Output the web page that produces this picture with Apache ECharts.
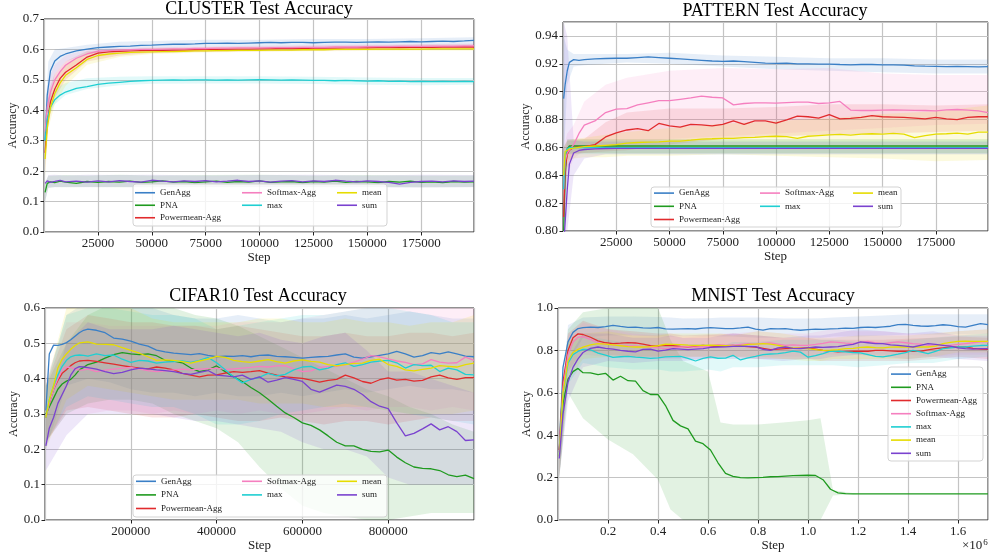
<!DOCTYPE html>
<html>
<head>
<meta charset="utf-8">
<script src="https://cdn.jsdelivr.net/npm/echarts@6/dist/echarts.min.js"></script>
<style>
  html, body { margin: 0; padding: 0; background: #fff; }
  #chart { width: 989px; height: 556px; }
</style>
</head>
<body>
<div id="chart"></div>
<script>
// series names and colours, same order in every panel
const names = ['GenAgg', 'PNA', 'Powermean-Agg', 'Softmax-Agg', 'max', 'mean', 'sum'];
const colors = ['#3a7fc6', '#1f9a1f', '#e12b2d', '#f57fbf', '#1fcfd2', '#e6dc00', '#7a42cf'];

// ---------- CLUSTER ----------
const clusterSteps = [500, 1500, 3000, 5000, 7500, 10000, 15000, 20000, 25000,
  30000, 35000, 40000, 45000, 50000, 55000, 60000, 65000, 70000, 75000,
  80000, 85000, 90000, 95000, 100000, 105000, 110000, 115000, 120000, 125000,
  130000, 135000, 140000, 145000, 150000, 155000, 160000, 165000, 170000, 175000,
  180000, 185000, 190000, 195000, 199500];
const clusterGenAgg = [0.30, 0.45, 0.53, 0.562, 0.577, 0.585, 0.595, 0.601, 0.606,
  0.608, 0.61, 0.611, 0.613, 0.614, 0.616, 0.617, 0.617, 0.618, 0.62,
  0.62, 0.621, 0.62, 0.621, 0.622, 0.623, 0.622, 0.623, 0.623, 0.622,
  0.623, 0.624, 0.624, 0.623, 0.624, 0.625, 0.624, 0.625, 0.626, 0.625,
  0.626, 0.627, 0.626, 0.628, 0.63];
const clusterPNA = [0.13, 0.16, 0.165, 0.162, 0.167, 0.164, 0.16, 0.166, 0.163,
  0.166, 0.164, 0.167, 0.163, 0.165, 0.168, 0.164, 0.166, 0.162, 0.165,
  0.167, 0.163, 0.166, 0.164, 0.168, 0.163, 0.165, 0.166, 0.162, 0.166,
  0.164, 0.167, 0.163, 0.166, 0.165, 0.162, 0.166, 0.164, 0.167, 0.163,
  0.165, 0.162, 0.166, 0.164, 0.165];
const clusterPowermean = [0.26, 0.36, 0.428, 0.47, 0.505, 0.525, 0.549, 0.575, 0.588,
  0.592, 0.594, 0.595, 0.596, 0.597, 0.597, 0.598, 0.598, 0.599, 0.6,
  0.6, 0.601, 0.601, 0.601, 0.602, 0.602, 0.603, 0.603, 0.603, 0.604,
  0.604, 0.604, 0.605, 0.605, 0.605, 0.606, 0.606, 0.606, 0.607, 0.607,
  0.607, 0.608, 0.608, 0.608, 0.608];
const clusterSoftmax = [0.33, 0.41, 0.46, 0.50, 0.527, 0.548, 0.571, 0.585, 0.594,
  0.596, 0.598, 0.599, 0.6, 0.6, 0.601, 0.602, 0.602, 0.603, 0.603,
  0.604, 0.604, 0.605, 0.605, 0.605, 0.606, 0.606, 0.606, 0.607, 0.607,
  0.607, 0.608, 0.608, 0.608, 0.609, 0.609, 0.609, 0.61, 0.61, 0.61,
  0.611, 0.611, 0.611, 0.612, 0.612];
const clusterMax = [0.30, 0.37, 0.41, 0.435, 0.45, 0.46, 0.472, 0.478, 0.485,
  0.489, 0.492, 0.495, 0.497, 0.498, 0.499, 0.5, 0.499, 0.5, 0.5,
  0.499, 0.5, 0.499, 0.5, 0.501, 0.5, 0.499, 0.5, 0.499, 0.498,
  0.498, 0.497, 0.498, 0.497, 0.496, 0.497, 0.495, 0.496, 0.494, 0.495,
  0.494, 0.495, 0.494, 0.495, 0.494];
const clusterMean = [0.24, 0.34, 0.41, 0.455, 0.49, 0.515, 0.54, 0.567, 0.58,
  0.585, 0.588, 0.59, 0.591, 0.592, 0.593, 0.593, 0.594, 0.595, 0.595,
  0.596, 0.596, 0.597, 0.597, 0.597, 0.598, 0.598, 0.598, 0.599, 0.599,
  0.599, 0.6, 0.6, 0.6, 0.6, 0.601, 0.601, 0.601, 0.601, 0.601,
  0.602, 0.602, 0.602, 0.602, 0.602];
const clusterSum = [0.16, 0.168, 0.163, 0.166, 0.17, 0.165, 0.167, 0.164, 0.168,
  0.165, 0.169, 0.166, 0.164, 0.17, 0.167, 0.165, 0.168, 0.166, 0.169,
  0.165, 0.167, 0.17, 0.166, 0.168, 0.164, 0.167, 0.169, 0.165, 0.168,
  0.166, 0.17, 0.167, 0.165, 0.168, 0.166, 0.163, 0.157, 0.163, 0.166,
  0.167, 0.165, 0.168, 0.166, 0.167];

const clusterBandSteps = [500, 2000, 5000, 10000, 20000, 35000, 50000, 75000, 100000, 125000, 150000, 175000, 199500];
const clusterGenAggLo = [0.22, 0.40, 0.52, 0.56, 0.585, 0.595, 0.603, 0.607, 0.608, 0.609, 0.61, 0.612, 0.614];
const clusterGenAggHi = [0.38, 0.56, 0.60, 0.605, 0.615, 0.625, 0.628, 0.632, 0.632, 0.634, 0.634, 0.637, 0.64];
const clusterPNALo = [0.10, 0.145, 0.148, 0.147, 0.148, 0.147, 0.148, 0.147, 0.148, 0.147, 0.148, 0.147, 0.148];
const clusterPNAHi = [0.16, 0.185, 0.186, 0.187, 0.186, 0.188, 0.186, 0.187, 0.188, 0.186, 0.187, 0.186, 0.186];
const clusterPowermeanLo = [0.2, 0.36, 0.44, 0.50, 0.56, 0.58, 0.588, 0.592, 0.594, 0.596, 0.598, 0.6, 0.6];
const clusterPowermeanHi = [0.32, 0.46, 0.52, 0.56, 0.595, 0.60, 0.605, 0.608, 0.61, 0.612, 0.614, 0.616, 0.617];
const clusterSoftmaxLo = [0.26, 0.4, 0.48, 0.52, 0.57, 0.585, 0.59, 0.593, 0.596, 0.598, 0.6, 0.601, 0.603];
const clusterSoftmaxHi = [0.38, 0.5, 0.55, 0.58, 0.6, 0.605, 0.608, 0.61, 0.613, 0.615, 0.617, 0.618, 0.62];
const clusterMaxLo = [0.24, 0.38, 0.42, 0.45, 0.47, 0.482, 0.487, 0.488, 0.488, 0.486, 0.484, 0.482, 0.484];
const clusterMaxHi = [0.36, 0.44, 0.47, 0.49, 0.505, 0.51, 0.512, 0.512, 0.512, 0.51, 0.508, 0.506, 0.506];
const clusterMeanLo = [0.18, 0.34, 0.42, 0.48, 0.55, 0.575, 0.585, 0.59, 0.592, 0.594, 0.595, 0.596, 0.596];
const clusterMeanHi = [0.3, 0.44, 0.5, 0.55, 0.59, 0.6, 0.603, 0.605, 0.607, 0.608, 0.608, 0.609, 0.609];
const clusterSumLo = [0.1, 0.146, 0.147, 0.148, 0.147, 0.148, 0.146, 0.148, 0.147, 0.148, 0.147, 0.146, 0.147];
const clusterSumHi = [0.16, 0.187, 0.188, 0.186, 0.188, 0.187, 0.188, 0.186, 0.187, 0.188, 0.186, 0.188, 0.187];

// ---------- PATTERN ----------
const patternSteps = [300, 1000, 2000, 3000, 5000, 7500, 10000, 15000, 20000, 25000,
  30000, 35000, 40000, 45000, 50000, 55000, 60000, 65000, 70000, 75000,
  80000, 85000, 90000, 95000, 100000, 105000, 110000, 115000, 120000, 125000,
  130000, 135000, 140000, 145000, 150000, 155000, 160000, 165000, 170000, 175000,
  180000, 185000, 190000, 195000, 199500];
const patternGenAgg = [0.895, 0.905, 0.915, 0.921, 0.923, 0.9225, 0.923, 0.9235, 0.9238, 0.924,
  0.924, 0.9245, 0.925, 0.9245, 0.924, 0.9235, 0.923, 0.9225, 0.922, 0.9218,
  0.922, 0.9215, 0.921, 0.9205, 0.9203, 0.9205, 0.92, 0.92, 0.9198, 0.9198,
  0.9195, 0.9193, 0.9195, 0.9195, 0.9192, 0.9193, 0.919, 0.9185, 0.9183, 0.9182,
  0.918, 0.9182, 0.918, 0.9178, 0.918];
const patternPNA = [0.80, 0.84, 0.859, 0.861, 0.861, 0.861, 0.861, 0.861, 0.861, 0.861,
  0.861, 0.861, 0.861, 0.861, 0.861, 0.861, 0.861, 0.861, 0.861, 0.861,
  0.861, 0.861, 0.861, 0.861, 0.861, 0.861, 0.861, 0.861, 0.861, 0.861,
  0.861, 0.861, 0.861, 0.861, 0.861, 0.861, 0.861, 0.861, 0.861, 0.861,
  0.861, 0.861, 0.861, 0.861, 0.861];
const patternPowermean = [0.81, 0.845, 0.855, 0.858, 0.86, 0.8602, 0.8605, 0.862, 0.8675, 0.8705,
  0.8725, 0.8735, 0.872, 0.8772, 0.8755, 0.8745, 0.8765, 0.8762, 0.8755, 0.8765,
  0.879, 0.8765, 0.879, 0.879, 0.8775, 0.8798, 0.8825, 0.882, 0.881, 0.8835,
  0.8805, 0.8808, 0.8815, 0.8828, 0.882, 0.8818, 0.8815, 0.881, 0.8805, 0.8815,
  0.8805, 0.88, 0.8815, 0.882, 0.882];
const patternSoftmax = [0.83, 0.85, 0.856, 0.858, 0.862, 0.87, 0.876, 0.879, 0.885, 0.8875,
  0.8878, 0.8905, 0.892, 0.8935, 0.8935, 0.8945, 0.8955, 0.8968, 0.896, 0.8955,
  0.8905, 0.8915, 0.892, 0.892, 0.8918, 0.8922, 0.8925, 0.8925, 0.8915, 0.892,
  0.893, 0.8868, 0.8865, 0.8865, 0.8868, 0.887, 0.8868, 0.8866, 0.8865, 0.8862,
  0.887, 0.8872, 0.8868, 0.8862, 0.885];
const patternMax = [0.83, 0.855, 0.859, 0.8598, 0.8598, 0.8598, 0.8598, 0.8598, 0.8598, 0.8598,
  0.8598, 0.8598, 0.8598, 0.8598, 0.8598, 0.8598, 0.8598, 0.8598, 0.8598, 0.8598,
  0.8598, 0.8598, 0.8598, 0.8598, 0.8598, 0.8598, 0.8598, 0.8598, 0.8598, 0.8598,
  0.8598, 0.8598, 0.8598, 0.8598, 0.8598, 0.8598, 0.8598, 0.8598, 0.8598, 0.8598,
  0.8598, 0.8598, 0.8598, 0.8598, 0.8598];
const patternMean = [0.84, 0.857, 0.858, 0.859, 0.8595, 0.86, 0.8605, 0.861, 0.8615, 0.862,
  0.863, 0.8635, 0.8638, 0.864, 0.8645, 0.8645, 0.8652, 0.866, 0.8662, 0.8665,
  0.8665, 0.867, 0.8672, 0.8678, 0.868, 0.8678, 0.8665, 0.868, 0.8685, 0.869,
  0.8693, 0.8688, 0.8695, 0.8698, 0.8695, 0.87, 0.8695, 0.867, 0.8685, 0.8695,
  0.8698, 0.8702, 0.8695, 0.871, 0.871];
const patternSum = [0.79, 0.806, 0.83, 0.848, 0.856, 0.8578, 0.8585, 0.859, 0.8592, 0.8593,
  0.8593, 0.8593, 0.8593, 0.8593, 0.8593, 0.8593, 0.8593, 0.8593, 0.8593, 0.8593,
  0.8593, 0.8593, 0.8593, 0.8593, 0.8593, 0.8593, 0.8593, 0.8593, 0.8593, 0.8593,
  0.8593, 0.8593, 0.8593, 0.8593, 0.8593, 0.8593, 0.8593, 0.8593, 0.8593, 0.8593,
  0.8593, 0.8593, 0.8593, 0.8593, 0.8593];

const patternBandSteps = [300, 2000, 5000, 10000, 20000, 30000, 50000, 75000, 100000, 125000, 150000, 175000, 199500];
const patternGenAggLo = [0.85, 0.905, 0.918, 0.919, 0.92, 0.921, 0.92, 0.918, 0.916, 0.915, 0.914, 0.913, 0.913];
const patternGenAggHi = [0.94, 0.93, 0.927, 0.927, 0.927, 0.927, 0.928, 0.926, 0.925, 0.924, 0.924, 0.923, 0.923];
const patternPNALo = [0.78, 0.855, 0.856, 0.856, 0.856, 0.856, 0.856, 0.856, 0.856, 0.856, 0.856, 0.856, 0.856];
const patternPNAHi = [0.84, 0.866, 0.866, 0.866, 0.866, 0.866, 0.866, 0.866, 0.866, 0.866, 0.866, 0.866, 0.866];
const patternPowermeanLo = [0.80, 0.845, 0.855, 0.856, 0.857, 0.858, 0.862, 0.866, 0.868, 0.869, 0.87, 0.871, 0.872];
const patternPowermeanHi = [0.86, 0.865, 0.865, 0.866, 0.878, 0.885, 0.888, 0.888, 0.889, 0.891, 0.891, 0.89, 0.891];
const patternSoftmaxLo = [0.80, 0.84, 0.852, 0.858, 0.86, 0.862, 0.866, 0.868, 0.87, 0.872, 0.874, 0.876, 0.877];
const patternSoftmaxHi = [0.86, 0.87, 0.876, 0.893, 0.905, 0.91, 0.915, 0.917, 0.916, 0.917, 0.913, 0.912, 0.912];
const patternMaxLo = [0.80, 0.855, 0.855, 0.855, 0.855, 0.855, 0.855, 0.855, 0.855, 0.855, 0.855, 0.855, 0.855];
const patternMaxHi = [0.86, 0.865, 0.865, 0.865, 0.865, 0.865, 0.865, 0.865, 0.865, 0.865, 0.865, 0.865, 0.865];
const patternMeanLo = [0.82, 0.85, 0.852, 0.853, 0.853, 0.854, 0.854, 0.855, 0.854, 0.853, 0.852, 0.85, 0.851];
const patternMeanHi = [0.86, 0.865, 0.866, 0.867, 0.869, 0.871, 0.874, 0.877, 0.879, 0.881, 0.884, 0.886, 0.89];
const patternSumLo = [0.78, 0.80, 0.84, 0.852, 0.855, 0.855, 0.855, 0.855, 0.855, 0.855, 0.855, 0.855, 0.855];
const patternSumHi = [0.95, 0.94, 0.865, 0.864, 0.864, 0.864, 0.864, 0.864, 0.864, 0.864, 0.864, 0.864, 0.864];

// ---------- CIFAR10 ----------
const cifarSteps = [2000, 10000, 20000, 30000, 40000, 50000, 60000, 70000, 80000, 90000, 100000,
  120000, 140000, 160000, 180000, 200000,
  220000, 240000, 260000, 280000, 300000,
  320000, 340000, 360000, 380000, 400000,
  420000, 440000, 460000, 480000, 500000,
  520000, 540000, 560000, 580000, 600000,
  620000, 640000, 660000, 680000, 700000,
  720000, 740000, 760000, 780000, 800000,
  820000, 840000, 860000, 880000, 900000,
  920000, 940000, 960000, 980000, 1000000];
const cifarGenAgg = [0.31, 0.47, 0.495, 0.494, 0.497, 0.502, 0.51, 0.52, 0.53, 0.537, 0.54,
  0.537, 0.53, 0.515, 0.512, 0.506,
  0.498, 0.492, 0.481, 0.476, 0.472,
  0.47, 0.468, 0.471, 0.466, 0.462,
  0.464, 0.463, 0.465, 0.462, 0.466,
  0.467, 0.463, 0.462, 0.46, 0.458,
  0.46, 0.462, 0.463, 0.467, 0.47,
  0.461, 0.458, 0.462, 0.466, 0.47,
  0.477, 0.47, 0.461, 0.465, 0.474,
  0.47, 0.476, 0.47, 0.464, 0.462];
const cifarPNA = [0.30, 0.32, 0.345, 0.37, 0.385, 0.393, 0.398, 0.41, 0.425, 0.432, 0.44,
  0.447, 0.458, 0.468, 0.474, 0.47,
  0.468, 0.47, 0.465, 0.452, 0.45,
  0.445, 0.43, 0.42, 0.425, 0.436,
  0.42, 0.405, 0.392, 0.375, 0.36,
  0.342, 0.322, 0.303, 0.29, 0.275,
  0.268, 0.255, 0.238, 0.22, 0.21,
  0.21, 0.2, 0.194, 0.193, 0.198,
  0.178, 0.162, 0.15, 0.146, 0.145,
  0.14, 0.128, 0.123, 0.127, 0.117];
const cifarPowermean = [0.29, 0.33, 0.37, 0.395, 0.415, 0.425, 0.437, 0.445, 0.45, 0.451, 0.452,
  0.449, 0.445, 0.441, 0.437, 0.433,
  0.43, 0.428, 0.433, 0.43, 0.425,
  0.415, 0.41, 0.405, 0.41, 0.411,
  0.416, 0.42, 0.418, 0.42, 0.423,
  0.416, 0.41, 0.405, 0.403, 0.401,
  0.396, 0.39, 0.395, 0.398, 0.41,
  0.402, 0.392, 0.387, 0.397, 0.402,
  0.396, 0.398, 0.393, 0.395, 0.405,
  0.41, 0.402, 0.398, 0.403, 0.403];
const cifarSoftmax = [0.29, 0.33, 0.37, 0.40, 0.425, 0.433, 0.432, 0.428, 0.424, 0.425, 0.427,
  0.42, 0.424, 0.427, 0.43, 0.432,
  0.427, 0.423, 0.42, 0.422, 0.425,
  0.427, 0.425, 0.427, 0.428, 0.43,
  0.426, 0.428, 0.43, 0.432, 0.435,
  0.433, 0.436, 0.437, 0.428, 0.42,
  0.422, 0.432, 0.434, 0.435, 0.44,
  0.447, 0.455, 0.465, 0.462, 0.456,
  0.45, 0.446, 0.44, 0.442, 0.454,
  0.447, 0.444, 0.445, 0.461, 0.452];
const cifarMax = [0.29, 0.34, 0.38, 0.41, 0.435, 0.452, 0.462, 0.466, 0.467, 0.466, 0.464,
  0.47, 0.465, 0.467, 0.455, 0.446,
  0.452, 0.45, 0.444, 0.447, 0.448,
  0.45, 0.446, 0.452, 0.46, 0.445,
  0.425, 0.405, 0.388, 0.398, 0.404,
  0.415, 0.408, 0.412, 0.425, 0.433,
  0.435, 0.425, 0.43, 0.44, 0.445,
  0.435, 0.44, 0.447, 0.45, 0.452,
  0.445, 0.43, 0.44, 0.437, 0.438,
  0.42, 0.43, 0.425, 0.412, 0.411];
const cifarMean = [0.29, 0.34, 0.38, 0.43, 0.455, 0.47, 0.483, 0.494, 0.501, 0.503, 0.504,
  0.498, 0.497, 0.496, 0.488, 0.48,
  0.472, 0.462, 0.452, 0.453, 0.452,
  0.448, 0.444, 0.45, 0.455, 0.463,
  0.46, 0.452, 0.448, 0.446, 0.45,
  0.454, 0.448, 0.444, 0.45, 0.453,
  0.449, 0.447, 0.44, 0.436, 0.44,
  0.443, 0.444, 0.452, 0.455, 0.44,
  0.435, 0.425, 0.422, 0.426, 0.43,
  0.437, 0.435, 0.433, 0.44, 0.444];
const cifarSum = [0.21, 0.26, 0.29, 0.33, 0.355, 0.38, 0.41, 0.428, 0.434, 0.433, 0.431,
  0.427, 0.42, 0.414, 0.418, 0.425,
  0.43, 0.428, 0.425, 0.423, 0.42,
  0.415, 0.412, 0.418, 0.423, 0.41,
  0.408, 0.405, 0.41, 0.398, 0.405,
  0.39, 0.396, 0.403, 0.398, 0.392,
  0.37, 0.362, 0.372, 0.382, 0.378,
  0.37, 0.355, 0.335, 0.322, 0.315,
  0.275, 0.238, 0.245, 0.258, 0.272,
  0.255, 0.264, 0.25, 0.225, 0.227];

const cifarBandSteps = [2000, 50000, 100000, 150000, 200000, 250000, 300000, 350000, 400000, 450000, 500000,
  550000, 600000, 650000, 700000, 750000, 800000, 850000, 900000, 950000, 1000000];
const cifarGenAggLo = [0.2, 0.38, 0.4, 0.39, 0.37, 0.36, 0.36, 0.35, 0.36, 0.35, 0.35, 0.36, 0.35, 0.36, 0.37, 0.36, 0.37, 0.38, 0.37, 0.37, 0.36];
const cifarGenAggHi = [0.38, 0.58, 0.62, 0.63, 0.62, 0.6, 0.58, 0.57, 0.57, 0.58, 0.57, 0.56, 0.57, 0.57, 0.58, 0.57, 0.58, 0.59, 0.58, 0.57, 0.57];
const cifarPNALo = [0.22, 0.3, 0.33, 0.34, 0.34, 0.33, 0.3, 0.28, 0.26, 0.22, 0.15, 0.09, 0.04, 0.02, 0.01, 0.0, 0.0, 0.01, 0.02, 0.02, 0.02];
const cifarPNAHi = [0.38, 0.5, 0.58, 0.61, 0.61, 0.6, 0.6, 0.58, 0.57, 0.55, 0.52, 0.49, 0.46, 0.43, 0.4, 0.37, 0.35, 0.32, 0.3, 0.27, 0.25];
const cifarPowermeanLo = [0.22, 0.31, 0.32, 0.31, 0.3, 0.29, 0.29, 0.3, 0.29, 0.28, 0.28, 0.29, 0.28, 0.27, 0.28, 0.28, 0.27, 0.28, 0.29, 0.28, 0.28];
const cifarPowermeanHi = [0.38, 0.54, 0.58, 0.57, 0.56, 0.56, 0.55, 0.55, 0.54, 0.55, 0.54, 0.53, 0.52, 0.52, 0.53, 0.52, 0.52, 0.53, 0.53, 0.52, 0.53];
const cifarSoftmaxLo = [0.22, 0.3, 0.3, 0.31, 0.31, 0.3, 0.31, 0.3, 0.31, 0.3, 0.31, 0.3, 0.3, 0.31, 0.32, 0.31, 0.32, 0.32, 0.31, 0.32, 0.31];
const cifarSoftmaxHi = [0.4, 0.56, 0.56, 0.55, 0.55, 0.55, 0.55, 0.55, 0.55, 0.56, 0.56, 0.56, 0.57, 0.58, 0.59, 0.6, 0.61, 0.6, 0.6, 0.61, 0.61];
const cifarMaxLo = [0.22, 0.32, 0.35, 0.34, 0.33, 0.32, 0.32, 0.3, 0.27, 0.27, 0.28, 0.3, 0.31, 0.32, 0.33, 0.32, 0.31, 0.3, 0.29, 0.28, 0.27];
const cifarMaxHi = [0.38, 0.58, 0.6, 0.6, 0.59, 0.58, 0.58, 0.57, 0.54, 0.55, 0.56, 0.57, 0.58, 0.58, 0.59, 0.6, 0.6, 0.59, 0.58, 0.56, 0.56];
const cifarMeanLo = [0.2, 0.34, 0.38, 0.37, 0.36, 0.35, 0.34, 0.34, 0.34, 0.34, 0.33, 0.33, 0.33, 0.32, 0.32, 0.32, 0.31, 0.3, 0.3, 0.3, 0.31];
const cifarMeanHi = [0.38, 0.6, 0.63, 0.62, 0.6, 0.57, 0.56, 0.56, 0.56, 0.56, 0.57, 0.57, 0.56, 0.56, 0.57, 0.56, 0.56, 0.55, 0.56, 0.56, 0.58];
const cifarSumLo = [0.14, 0.24, 0.3, 0.3, 0.3, 0.3, 0.29, 0.28, 0.28, 0.27, 0.26, 0.25, 0.22, 0.2, 0.2, 0.18, 0.12, 0.1, 0.1, 0.1, 0.1];
const cifarSumHi = [0.3, 0.5, 0.56, 0.54, 0.54, 0.54, 0.55, 0.54, 0.53, 0.52, 0.53, 0.51, 0.5, 0.52, 0.53, 0.48, 0.42, 0.42, 0.4, 0.38, 0.36];

// ---------- MNIST ----------
const mnistSteps = [5000, 20000, 40000, 60000, 80000,
  100000, 130000, 160000, 190000, 220000, 250000, 280000, 310000, 340000, 370000,
  400000, 430000, 460000, 490000, 520000, 550000, 580000, 610000, 640000, 670000,
  700000, 730000, 760000, 790000, 820000, 850000, 880000, 910000, 940000, 970000,
  1000000, 1030000, 1060000, 1090000, 1120000, 1150000, 1180000, 1210000, 1240000, 1270000,
  1300000, 1330000, 1360000, 1390000, 1420000, 1450000, 1480000, 1510000, 1540000, 1570000,
  1600000, 1630000, 1660000, 1690000, 1720000];
const mnistGenAgg = [0.32, 0.72, 0.84, 0.885, 0.903,
  0.907, 0.91, 0.908, 0.912, 0.918, 0.913, 0.909, 0.91, 0.906, 0.905,
  0.908, 0.902, 0.9, 0.902, 0.903, 0.901, 0.905, 0.907, 0.905, 0.903,
  0.903, 0.906, 0.91, 0.9, 0.896, 0.903, 0.902, 0.903, 0.898, 0.895,
  0.898, 0.9, 0.899, 0.902, 0.903, 0.905, 0.904, 0.908, 0.91, 0.908,
  0.911, 0.914, 0.922, 0.923, 0.918, 0.915, 0.914, 0.917, 0.921, 0.918,
  0.912, 0.91, 0.918, 0.926, 0.922];
const mnistPNA = [0.33, 0.55, 0.665, 0.7, 0.715,
  0.695, 0.694, 0.686, 0.692, 0.66, 0.678, 0.657, 0.655, 0.61, 0.592,
  0.591, 0.54, 0.47, 0.444, 0.43, 0.372, 0.36, 0.33, 0.27, 0.22,
  0.206, 0.2, 0.199, 0.2, 0.201, 0.204, 0.205, 0.207, 0.209, 0.21,
  0.211, 0.21, 0.19, 0.145, 0.128, 0.124, 0.123, 0.123, 0.123, 0.123,
  0.123, 0.123, 0.123, 0.123, 0.123, 0.123, 0.123, 0.123, 0.123, 0.123,
  0.123, 0.123, 0.123, 0.123, 0.123];
const mnistPowermean = [0.33, 0.65, 0.8, 0.86, 0.878,
  0.875, 0.862, 0.845, 0.836, 0.832, 0.834, 0.837, 0.835, 0.83, 0.823,
  0.821, 0.824, 0.823, 0.819, 0.816, 0.82, 0.824, 0.82, 0.819, 0.822,
  0.824, 0.82, 0.818, 0.816, 0.81, 0.804, 0.806, 0.808, 0.81, 0.811,
  0.812, 0.806, 0.8, 0.797, 0.793, 0.795, 0.796, 0.797, 0.796, 0.8,
  0.8, 0.798, 0.796, 0.797, 0.796, 0.796, 0.802, 0.808, 0.812, 0.816,
  0.817, 0.816, 0.81, 0.806, 0.805];
const mnistSoftmax = [0.32, 0.62, 0.78, 0.84, 0.862,
  0.865, 0.852, 0.835, 0.83, 0.826, 0.824, 0.822, 0.821, 0.818, 0.816,
  0.812, 0.808, 0.812, 0.816, 0.818, 0.815, 0.816, 0.822, 0.827, 0.825,
  0.824, 0.828, 0.832, 0.83, 0.833, 0.835, 0.83, 0.824, 0.826, 0.824,
  0.824, 0.828, 0.833, 0.84, 0.838, 0.834, 0.832, 0.838, 0.843, 0.836,
  0.832, 0.836, 0.84, 0.836, 0.832, 0.83, 0.824, 0.826, 0.824, 0.824,
  0.828, 0.832, 0.836, 0.84, 0.84];
const mnistMax = [0.3, 0.6, 0.74, 0.78, 0.795,
  0.805, 0.803, 0.787, 0.778, 0.767, 0.77, 0.772, 0.768, 0.766, 0.762,
  0.765, 0.769, 0.771, 0.772, 0.762, 0.75, 0.762, 0.769, 0.763, 0.764,
  0.777, 0.755, 0.765, 0.772, 0.78, 0.783, 0.785, 0.79, 0.797, 0.792,
  0.768, 0.775, 0.785, 0.797, 0.796, 0.793, 0.79, 0.788, 0.78, 0.772,
  0.769, 0.775, 0.782, 0.79, 0.8, 0.793, 0.785, 0.795, 0.808, 0.812,
  0.816, 0.816, 0.82, 0.823, 0.824];
const mnistMean = [0.3, 0.6, 0.75, 0.79, 0.805,
  0.815, 0.826, 0.832, 0.83, 0.826, 0.822, 0.818, 0.816, 0.816, 0.818,
  0.822, 0.829, 0.828, 0.827, 0.825, 0.824, 0.824, 0.825, 0.824, 0.822,
  0.819, 0.822, 0.828, 0.83, 0.832, 0.83, 0.824, 0.816, 0.812, 0.81,
  0.808, 0.804, 0.8, 0.801, 0.804, 0.808, 0.81, 0.814, 0.816, 0.813,
  0.812, 0.815, 0.816, 0.816, 0.816, 0.816, 0.816, 0.82, 0.832, 0.838,
  0.843, 0.844, 0.843, 0.843, 0.843];
const mnistSum = [0.29, 0.5, 0.65, 0.72, 0.76,
  0.79, 0.81, 0.816, 0.81, 0.806, 0.8, 0.796, 0.793, 0.805, 0.806,
  0.797, 0.801, 0.808, 0.806, 0.804, 0.806, 0.808, 0.814, 0.816, 0.817,
  0.819, 0.82, 0.819, 0.818, 0.805, 0.8, 0.812, 0.816, 0.81, 0.808,
  0.812, 0.816, 0.814, 0.816, 0.818, 0.824, 0.828, 0.84, 0.836, 0.832,
  0.832, 0.826, 0.824, 0.82, 0.816, 0.824, 0.832, 0.828, 0.824, 0.82,
  0.812, 0.808, 0.806, 0.808, 0.808];

const mnistBandSteps = [5000, 40000, 100000, 200000, 300000, 400000, 450000, 500000, 600000, 650000, 700000,
  800000, 900000, 1000000, 1050000, 1100000, 1200000, 1300000, 1400000, 1500000, 1600000, 1720000];
const mnistGenAggLo = [0.2, 0.74, 0.86, 0.87, 0.87, 0.865, 0.865, 0.865, 0.865, 0.865, 0.865, 0.86, 0.86, 0.86, 0.86, 0.865, 0.865, 0.87, 0.875, 0.875, 0.875, 0.875];
const mnistGenAggHi = [0.42, 0.92, 0.955, 0.96, 0.96, 0.958, 0.955, 0.95, 0.952, 0.955, 0.955, 0.955, 0.95, 0.95, 0.952, 0.955, 0.96, 0.965, 0.97, 0.97, 0.97, 0.97];
const mnistPNALo = [0.2, 0.6, 0.48, 0.38, 0.31, 0.19, 0.05, 0, 0, 0, 0, 0, 0, 0, 0, 0.115, 0.123, 0.123, 0.123, 0.123, 0.123, 0.123];
const mnistPNAHi = [0.45, 0.9, 0.98, 1.0, 1.0, 1.0, 0.85, 0.75, 0.7, 0.46, 0.45, 0.45, 0.46, 0.47, 0.48, 0.14, 0.124, 0.124, 0.124, 0.124, 0.124, 0.124];
const mnistPowermeanLo = [0.2, 0.7, 0.8, 0.78, 0.77, 0.77, 0.77, 0.77, 0.77, 0.77, 0.77, 0.76, 0.76, 0.76, 0.75, 0.75, 0.75, 0.75, 0.75, 0.76, 0.77, 0.76];
const mnistPowermeanHi = [0.45, 0.88, 0.94, 0.9, 0.89, 0.88, 0.88, 0.87, 0.875, 0.875, 0.88, 0.87, 0.86, 0.86, 0.85, 0.85, 0.85, 0.85, 0.855, 0.86, 0.865, 0.86];
const mnistSoftmaxLo = [0.2, 0.68, 0.78, 0.77, 0.77, 0.76, 0.76, 0.76, 0.76, 0.77, 0.77, 0.77, 0.77, 0.77, 0.78, 0.78, 0.78, 0.78, 0.78, 0.77, 0.78, 0.78];
const mnistSoftmaxHi = [0.45, 0.87, 0.93, 0.9, 0.88, 0.87, 0.87, 0.86, 0.87, 0.88, 0.88, 0.89, 0.88, 0.88, 0.89, 0.9, 0.89, 0.89, 0.88, 0.88, 0.89, 0.9];
const mnistMaxLo = [0.2, 0.64, 0.74, 0.72, 0.71, 0.71, 0.7, 0.7, 0.71, 0.7, 0.72, 0.72, 0.73, 0.73, 0.73, 0.73, 0.72, 0.73, 0.74, 0.74, 0.76, 0.77];
const mnistMaxHi = [0.45, 0.84, 0.87, 0.85, 0.83, 0.82, 0.82, 0.83, 0.83, 0.82, 0.84, 0.84, 0.85, 0.85, 0.85, 0.85, 0.84, 0.84, 0.85, 0.86, 0.87, 0.88];
const mnistMeanLo = [0.2, 0.66, 0.76, 0.77, 0.77, 0.77, 0.77, 0.77, 0.77, 0.77, 0.77, 0.77, 0.76, 0.75, 0.75, 0.76, 0.76, 0.76, 0.76, 0.77, 0.79, 0.79];
const mnistMeanHi = [0.42, 0.84, 0.88, 0.89, 0.87, 0.87, 0.88, 0.88, 0.88, 0.88, 0.87, 0.89, 0.88, 0.86, 0.86, 0.86, 0.87, 0.87, 0.87, 0.88, 0.89, 0.9];
const mnistSumLo = [0.2, 0.56, 0.72, 0.75, 0.74, 0.75, 0.75, 0.75, 0.76, 0.76, 0.76, 0.76, 0.75, 0.76, 0.76, 0.77, 0.78, 0.77, 0.76, 0.77, 0.76, 0.75];
const mnistSumHi = [0.4, 0.76, 0.88, 0.88, 0.86, 0.86, 0.87, 0.86, 0.86, 0.87, 0.88, 0.87, 0.86, 0.87, 0.87, 0.88, 0.9, 0.89, 0.88, 0.89, 0.87, 0.87];

const panels = [
  { steps: clusterSteps, bandSteps: clusterBandSteps,
    mean: [clusterGenAgg, clusterPNA, clusterPowermean, clusterSoftmax, clusterMax, clusterMean, clusterSum],
    lo: [clusterGenAggLo, clusterPNALo, clusterPowermeanLo, clusterSoftmaxLo, clusterMaxLo, clusterMeanLo, clusterSumLo],
    hi: [clusterGenAggHi, clusterPNAHi, clusterPowermeanHi, clusterSoftmaxHi, clusterMaxHi, clusterMeanHi, clusterSumHi] },
  { steps: patternSteps, bandSteps: patternBandSteps,
    mean: [patternGenAgg, patternPNA, patternPowermean, patternSoftmax, patternMax, patternMean, patternSum],
    lo: [patternGenAggLo, patternPNALo, patternPowermeanLo, patternSoftmaxLo, patternMaxLo, patternMeanLo, patternSumLo],
    hi: [patternGenAggHi, patternPNAHi, patternPowermeanHi, patternSoftmaxHi, patternMaxHi, patternMeanHi, patternSumHi] },
  { steps: cifarSteps, bandSteps: cifarBandSteps,
    mean: [cifarGenAgg, cifarPNA, cifarPowermean, cifarSoftmax, cifarMax, cifarMean, cifarSum],
    lo: [cifarGenAggLo, cifarPNALo, cifarPowermeanLo, cifarSoftmaxLo, cifarMaxLo, cifarMeanLo, cifarSumLo],
    hi: [cifarGenAggHi, cifarPNAHi, cifarPowermeanHi, cifarSoftmaxHi, cifarMaxHi, cifarMeanHi, cifarSumHi] },
  { steps: mnistSteps, bandSteps: mnistBandSteps,
    mean: [mnistGenAgg, mnistPNA, mnistPowermean, mnistSoftmax, mnistMax, mnistMean, mnistSum],
    lo: [mnistGenAggLo, mnistPNALo, mnistPowermeanLo, mnistSoftmaxLo, mnistMaxLo, mnistMeanLo, mnistSumLo],
    hi: [mnistGenAggHi, mnistPNAHi, mnistPowermeanHi, mnistSoftmaxHi, mnistMaxHi, mnistMeanHi, mnistSumHi] }
];

const titles = ['CLUSTER Test Accuracy', 'PATTERN Test Accuracy', 'CIFAR10 Test Accuracy', 'MNIST Test Accuracy'];
const serif = '"Liberation Serif", "DejaVu Serif", serif';
const ink = '#222';
const gridLine = '#c4c4c4';

const grids = [
  { left: 44, top: 19, width: 430, height: 213 },
  { left: 563, top: 22, width: 425, height: 209 },
  { left: 45, top: 308, width: 429, height: 212 },
  { left: 558, top: 308, width: 430, height: 212 }
];

function xAxisFor(p, max, interval, fmt) {
  return {
    type: 'value', gridIndex: p, min: 0, max: max, interval: interval,
    name: 'Step', nameLocation: 'middle', nameGap: 17,
    nameTextStyle: { fontFamily: serif, fontSize: 13, color: ink },
    axisLine: { show: false },
    axisTick: { show: true, length: 3.5, lineStyle: { color: ink } },
    axisLabel: { fontFamily: serif, fontSize: 13, color: ink, margin: 5,
      showMinLabel: false, showMaxLabel: false, formatter: fmt },
    splitLine: { show: true, lineStyle: { color: gridLine, width: 1.2 } }
  };
}
function yAxisFor(p, min, max, interval, digits, gap) {
  return {
    type: 'value', gridIndex: p, min: min, max: max, interval: interval,
    name: 'Accuracy', nameLocation: 'middle', nameGap: gap, nameRotate: 90,
    nameTextStyle: { fontFamily: serif, fontSize: 12, color: ink },
    axisLine: { show: false },
    axisTick: { show: true, length: 3.5, lineStyle: { color: ink } },
    axisLabel: { fontFamily: serif, fontSize: 13, color: ink, margin: 5,
      showMaxLabel: p !== 1, formatter: v => v.toFixed(digits) },
    splitLine: { show: true, lineStyle: { color: gridLine, width: 1.2 } }
  };
}

// shaded spread: one polygon per series, lower edge forward then upper edge back
function bandSeries(p, i, xs, lo, hi) {
  return {
    type: 'custom', xAxisIndex: p, yAxisIndex: p, silent: true, clip: true, z: 1,
    data: xs.map((x, k) => [x, lo[k], hi[k]]),
    encode: { x: 0, y: [1, 2] },
    renderItem: function (params, api) {
      if (params.dataIndex !== 0) return;
      const pts = [];
      for (let k = 0; k < xs.length; k++) pts.push(api.coord([xs[k], lo[k]]));
      for (let k = xs.length - 1; k >= 0; k--) pts.push(api.coord([xs[k], hi[k]]));
      return { type: 'polygon', shape: { points: pts },
        style: { fill: colors[i], opacity: 0.13 } };
    }
  };
}

const series = [];
panels.forEach((pd, p) => {
  names.forEach((nm, i) => {
    series.push(bandSeries(p, i, pd.bandSteps, pd.lo[i], pd.hi[i]));
  });
  names.forEach((nm, i) => {
    series.push({
      type: 'line', name: nm, xAxisIndex: p, yAxisIndex: p, symbol: 'none', z: 3,
      color: colors[i], lineStyle: { width: 1.3, color: colors[i] },
      data: pd.steps.map((x, k) => [x, pd.mean[i][k]])
    });
  });
});

function legendAt(left, top, data, rowH) {
  return {
    data: data, orient: 'vertical', left: left, top: top, padding: 0, itemGap: 0,
    icon: 'rect', itemWidth: 20, itemHeight: 1.6, selectedMode: false, z: 12,
    textStyle: { fontFamily: serif, fontSize: 9, color: ink, lineHeight: rowH }
  };
}
const col1 = ['GenAgg', 'PNA', 'Powermean-Agg'];
const col2 = ['Softmax-Agg', 'max'];
const col3 = ['mean', 'sum'];

const legends = [
  legendAt(135, 186.5, col1, 12.5), legendAt(242, 186.5, col2, 12.5), legendAt(337, 186.5, col3, 12.5),
  legendAt(654, 186.5, col1, 13.2), legendAt(760, 186.5, col2, 13.2), legendAt(853, 186.5, col3, 13.2),
  legendAt(136, 474.5, col1, 13.6), legendAt(242, 474.5, col2, 13.6), legendAt(337, 474.5, col3, 13.6),
  legendAt(891, 367.5, names, 13.2)
];

function box(x, y, w, h) {
  return { type: 'rect', shape: { x: x, y: y, width: w, height: h, r: 3 }, z: 10,
    style: { fill: 'rgba(255,255,255,0.8)', stroke: '#d3d3d3', lineWidth: 1 } };
}

const option = {
  animation: false,
  backgroundColor: '#fff',
  title: [
    { text: titles[0], left: 259, top: 0, textAlign: 'center', padding: 0,
      textStyle: { fontFamily: serif, fontSize: 18, fontWeight: 'normal', color: '#000' } },
    { text: titles[1], left: 775, top: 2, textAlign: 'center', padding: 0,
      textStyle: { fontFamily: serif, fontSize: 18, fontWeight: 'normal', color: '#000' } },
    { text: titles[2], left: 258, top: 287, textAlign: 'center', padding: 0,
      textStyle: { fontFamily: serif, fontSize: 18, fontWeight: 'normal', color: '#000' } },
    { text: titles[3], left: 773, top: 287, textAlign: 'center', padding: 0,
      textStyle: { fontFamily: serif, fontSize: 18, fontWeight: 'normal', color: '#000' } }
  ],
  grid: grids.map(g => Object.assign({ show: true, borderColor: ink, borderWidth: 1, backgroundColor: 'transparent' }, g)),
  xAxis: [
    xAxisFor(0, 199500, 25000, v => String(v)),
    xAxisFor(1, 199500, 25000, v => String(v)),
    xAxisFor(2, 1000000, 200000, v => String(v)),
    xAxisFor(3, 1720000, 200000, v => (v / 1e6).toFixed(1))
  ],
  yAxis: [
    yAxisFor(0, 0, 0.7, 0.1, 1, 25),
    yAxisFor(1, 0.8, 0.95, 0.02, 2, 27),
    yAxisFor(2, 0, 0.6, 0.1, 1, 24),
    yAxisFor(3, 0, 1.0, 0.2, 1, 22)
  ],
  legend: legends,
  graphic: [
    box(133, 184, 254, 42),
    box(651, 187, 250, 40),
    box(133, 475, 254, 42),
    box(888, 367, 95, 94),
    { type: 'text', x: 962, y: 538, z: 12,
      style: { text: '×10{s|6}', fontFamily: serif, fontSize: 13, fill: ink,
        rich: { s: { fontFamily: serif, fontSize: 9, verticalAlign: 'top', padding: [0, 0, 6, 1] } } } }
  ],
  series: series
};

const chart = echarts.init(document.getElementById('chart'), null, { renderer: 'canvas' });
chart.setOption(option);
</script>
</body>
</html>
